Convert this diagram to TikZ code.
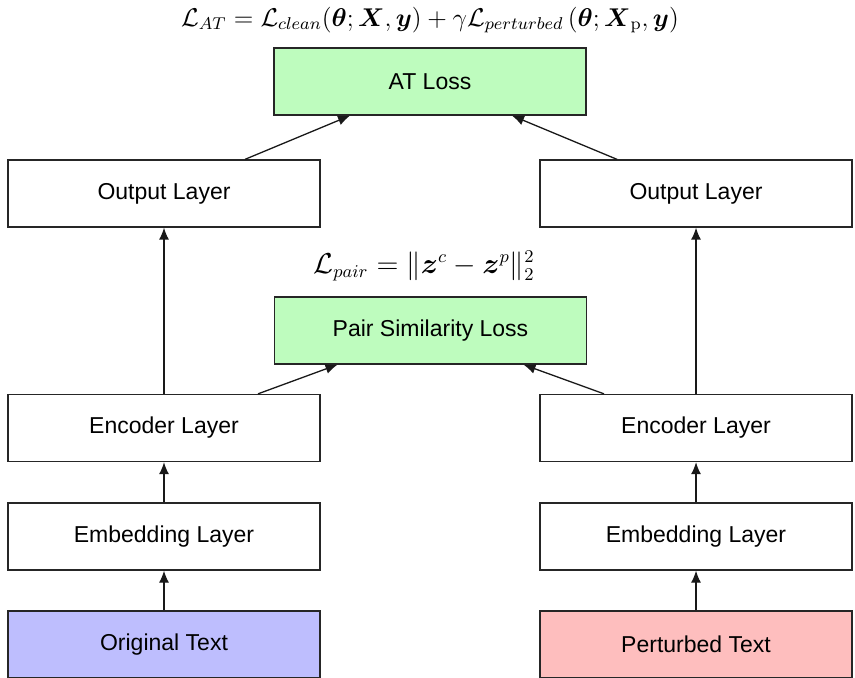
\documentclass[tikz,border=0pt]{standalone}
\usepackage{amsmath}
\usepackage{graphicx}
\usepackage{fontspec}
\newfontfamily\lblfont{Liberation Sans}
\usetikzlibrary{arrows.meta}
\definecolor{lossgreen}{RGB}{190,252,190}
\definecolor{origblue}{RGB}{190,190,254}
\definecolor{pertred}{RGB}{254,190,190}
\begin{document}
\begin{tikzpicture}[x=0.5pt,y=-0.5pt,
  box/.style={draw=black!85, line width=0.65pt, minimum width=156pt, minimum height=33.5pt,
    inner sep=0pt, font=\lblfont\fontsize{11.5}{13}\selectfont},
  arr/.style={-{Latex[length=6pt,width=5pt]}, line width=0.65pt, black!90},
  eq/.style={inner sep=0pt}]
\useasboundingbox (0,0) rectangle (855,678);
% formulas
\node[eq, font=\fontsize{12}{15}\selectfont] (f1) at (430,20) {\scalebox{1.07}{$\mathcal{L}_{AT}=\mathcal{L}_{clean}(\boldsymbol{\theta};\boldsymbol{X},\boldsymbol{y})+\gamma\mathcal{L}_{perturbed}\left(\boldsymbol{\theta};\boldsymbol{X}_{\mathrm{p}},\boldsymbol{y}\right)$}};
\node[eq, font=\fontsize{13.5}{16}\selectfont] (f2) at (424,266) {$\mathcal{L}_{pair}=\|\boldsymbol{z}^{c}-\boldsymbol{z}^{p}\|_2^2$};
% boxes
\node[box, fill=lossgreen] (at) at (430,81.5) {AT Loss};
\node[box] (outL) at (164,193.5) {Output Layer};
\node[box] (outR) at (696,193.5) {Output Layer};
\node[box, fill=lossgreen] (pair) at (430.5,330.5) {Pair Similarity Loss};
\node[box] (encL) at (164,428) {Encoder Layer};
\node[box] (encR) at (696,428) {Encoder Layer};
\node[box] (embL) at (164,536.5) {Embedding Layer};
\node[box] (embR) at (696,536.5) {Embedding Layer};
\node[box, fill=origblue] (txtL) at (164,644.5) {Original Text};
\node[box, fill=pertred] (txtR) at (696,644.5) {Perturbed Text};
% connectors
\draw[arr] (txtL) -- (embL);
\draw[arr] (txtR) -- (embR);
\draw[arr] (embL) -- (encL);
\draw[arr] (embR) -- (encR);
\draw[arr] (encL) -- (outL);
\draw[arr] (encR) -- (outR);
\draw[arr] ([xshift=47pt]encL.north) -- ([xshift=-46.5pt]pair.south);
\draw[arr] ([xshift=-46pt]encR.north) -- ([xshift=46.5pt]pair.south);
\draw[arr] ([xshift=40.5pt]outL.north) -- ([xshift=-40pt]at.south);
\draw[arr] ([xshift=-39.5pt]outR.north) -- ([xshift=41pt]at.south);
\end{tikzpicture}
\end{document}
